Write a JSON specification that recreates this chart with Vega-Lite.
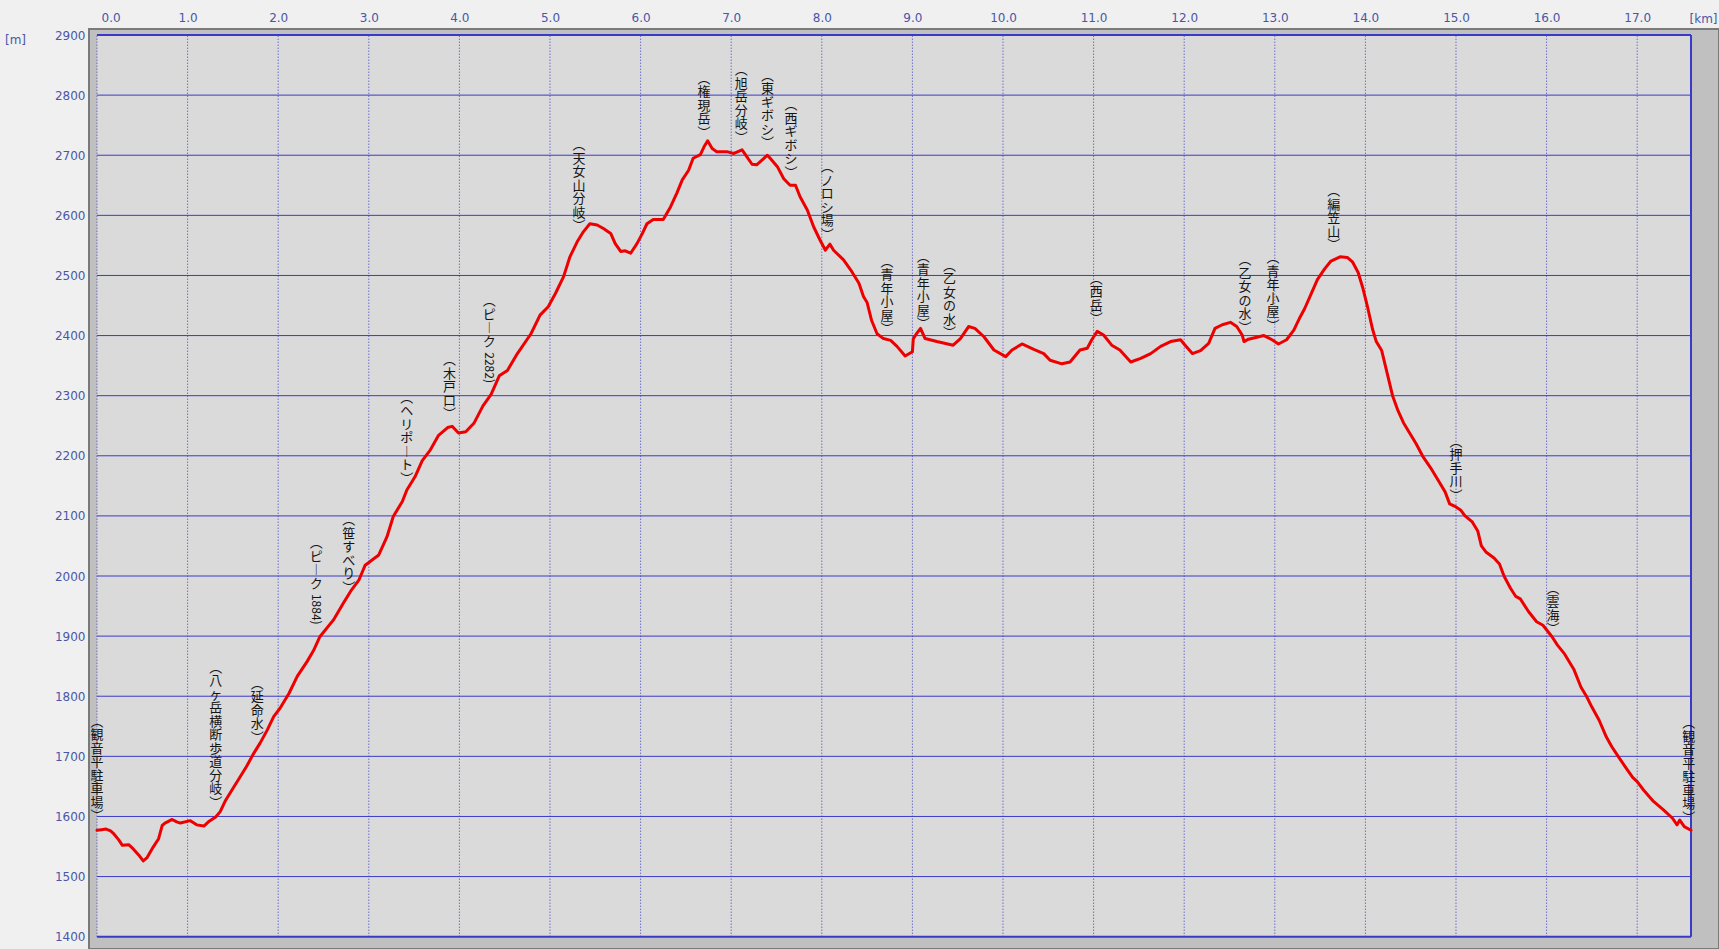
{
  "$schema": "https://vega.github.io/schema/vega-lite/v6.json",
  "width": 1630,
  "height": 920,
  "autosize": {"type": "none"},
  "padding": {"left": 89, "top": 29, "right": 0, "bottom": 0},
  "background": "#f0f0f0",
  "config": {
    "view": {"fill": "#c0c0c0", "stroke": "#7a7a7a", "strokeWidth": 2}
  },
  "datasets": {
    "profile": [
      {"km": 0.00, "elev": 1577}, {"km": 0.05, "elev": 1578}, {"km": 0.10, "elev": 1579}, {"km": 0.15, "elev": 1576},
      {"km": 0.18, "elev": 1572}, {"km": 0.24, "elev": 1561}, {"km": 0.28, "elev": 1552}, {"km": 0.35, "elev": 1553},
      {"km": 0.40, "elev": 1546}, {"km": 0.46, "elev": 1536}, {"km": 0.51, "elev": 1526}, {"km": 0.55, "elev": 1531},
      {"km": 0.62, "elev": 1549}, {"km": 0.68, "elev": 1563}, {"km": 0.72, "elev": 1585}, {"km": 0.75, "elev": 1589},
      {"km": 0.83, "elev": 1595}, {"km": 0.88, "elev": 1591}, {"km": 0.92, "elev": 1589}, {"km": 1.03, "elev": 1593},
      {"km": 1.10, "elev": 1586}, {"km": 1.18, "elev": 1584}, {"km": 1.23, "elev": 1591}, {"km": 1.31, "elev": 1599},
      {"km": 1.36, "elev": 1608}, {"km": 1.42, "elev": 1627}, {"km": 1.51, "elev": 1649}, {"km": 1.56, "elev": 1661},
      {"km": 1.65, "elev": 1683}, {"km": 1.73, "elev": 1705}, {"km": 1.80, "elev": 1722}, {"km": 1.88, "elev": 1744},
      {"km": 1.95, "elev": 1766}, {"km": 2.02, "elev": 1780}, {"km": 2.12, "elev": 1805}, {"km": 2.21, "elev": 1833},
      {"km": 2.32, "elev": 1858}, {"km": 2.39, "elev": 1876}, {"km": 2.46, "elev": 1899}, {"km": 2.61, "elev": 1927},
      {"km": 2.72, "elev": 1955}, {"km": 2.81, "elev": 1977}, {"km": 2.89, "elev": 1993}, {"km": 2.96, "elev": 2018},
      {"km": 3.04, "elev": 2027}, {"km": 3.11, "elev": 2035}, {"km": 3.20, "elev": 2065}, {"km": 3.27, "elev": 2099},
      {"km": 3.37, "elev": 2124}, {"km": 3.42, "elev": 2143}, {"km": 3.51, "elev": 2165}, {"km": 3.59, "elev": 2192},
      {"km": 3.68, "elev": 2210}, {"km": 3.77, "elev": 2234}, {"km": 3.87, "elev": 2247}, {"km": 3.92, "elev": 2249},
      {"km": 3.99, "elev": 2238}, {"km": 4.07, "elev": 2240}, {"km": 4.16, "elev": 2254}, {"km": 4.26, "elev": 2283},
      {"km": 4.35, "elev": 2302}, {"km": 4.44, "elev": 2333}, {"km": 4.53, "elev": 2342}, {"km": 4.64, "elev": 2370},
      {"km": 4.79, "elev": 2403}, {"km": 4.89, "elev": 2434}, {"km": 4.98, "elev": 2448}, {"km": 5.06, "elev": 2470},
      {"km": 5.15, "elev": 2498}, {"km": 5.22, "elev": 2531}, {"km": 5.30, "elev": 2556}, {"km": 5.37, "elev": 2573},
      {"km": 5.44, "elev": 2586}, {"km": 5.52, "elev": 2584}, {"km": 5.59, "elev": 2578}, {"km": 5.67, "elev": 2570},
      {"km": 5.72, "elev": 2553}, {"km": 5.78, "elev": 2540}, {"km": 5.83, "elev": 2541}, {"km": 5.89, "elev": 2537},
      {"km": 5.96, "elev": 2553}, {"km": 6.02, "elev": 2570}, {"km": 6.07, "elev": 2586}, {"km": 6.14, "elev": 2593},
      {"km": 6.25, "elev": 2593}, {"km": 6.33, "elev": 2614}, {"km": 6.40, "elev": 2637}, {"km": 6.46, "elev": 2659},
      {"km": 6.53, "elev": 2675}, {"km": 6.58, "elev": 2695}, {"km": 6.66, "elev": 2701}, {"km": 6.70, "elev": 2714},
      {"km": 6.74, "elev": 2724}, {"km": 6.79, "elev": 2711}, {"km": 6.84, "elev": 2706}, {"km": 6.95, "elev": 2706},
      {"km": 7.03, "elev": 2703}, {"km": 7.12, "elev": 2709}, {"km": 7.17, "elev": 2698}, {"km": 7.23, "elev": 2685},
      {"km": 7.28, "elev": 2684}, {"km": 7.34, "elev": 2692}, {"km": 7.40, "elev": 2700}, {"km": 7.43, "elev": 2695},
      {"km": 7.51, "elev": 2681}, {"km": 7.58, "elev": 2661}, {"km": 7.65, "elev": 2650}, {"km": 7.71, "elev": 2650},
      {"km": 7.76, "elev": 2631}, {"km": 7.84, "elev": 2609}, {"km": 7.91, "elev": 2581}, {"km": 7.98, "elev": 2559},
      {"km": 8.04, "elev": 2542}, {"km": 8.09, "elev": 2552}, {"km": 8.13, "elev": 2542}, {"km": 8.24, "elev": 2526},
      {"km": 8.32, "elev": 2509}, {"km": 8.41, "elev": 2487}, {"km": 8.46, "elev": 2465}, {"km": 8.50, "elev": 2455},
      {"km": 8.55, "elev": 2425}, {"km": 8.61, "elev": 2403}, {"km": 8.68, "elev": 2395}, {"km": 8.76, "elev": 2392},
      {"km": 8.83, "elev": 2382}, {"km": 8.92, "elev": 2366}, {"km": 9.00, "elev": 2373}, {"km": 9.01, "elev": 2395},
      {"km": 9.05, "elev": 2404}, {"km": 9.09, "elev": 2412}, {"km": 9.14, "elev": 2395}, {"km": 9.27, "elev": 2390},
      {"km": 9.45, "elev": 2384}, {"km": 9.53, "elev": 2395}, {"km": 9.62, "elev": 2415}, {"km": 9.69, "elev": 2412},
      {"km": 9.79, "elev": 2398}, {"km": 9.90, "elev": 2376}, {"km": 10.03, "elev": 2365}, {"km": 10.10, "elev": 2376},
      {"km": 10.21, "elev": 2386}, {"km": 10.34, "elev": 2377}, {"km": 10.45, "elev": 2370}, {"km": 10.52, "elev": 2359},
      {"km": 10.65, "elev": 2353}, {"km": 10.74, "elev": 2356}, {"km": 10.85, "elev": 2376}, {"km": 10.93, "elev": 2379},
      {"km": 10.98, "elev": 2393}, {"km": 11.04, "elev": 2407}, {"km": 11.11, "elev": 2401}, {"km": 11.20, "elev": 2384},
      {"km": 11.29, "elev": 2376}, {"km": 11.41, "elev": 2356}, {"km": 11.52, "elev": 2362}, {"km": 11.63, "elev": 2370},
      {"km": 11.74, "elev": 2382}, {"km": 11.85, "elev": 2390}, {"km": 11.96, "elev": 2393}, {"km": 12.01, "elev": 2384},
      {"km": 12.09, "elev": 2370}, {"km": 12.18, "elev": 2375}, {"km": 12.27, "elev": 2387}, {"km": 12.34, "elev": 2412},
      {"km": 12.42, "elev": 2418}, {"km": 12.51, "elev": 2422}, {"km": 12.58, "elev": 2415}, {"km": 12.64, "elev": 2401},
      {"km": 12.66, "elev": 2390}, {"km": 12.71, "elev": 2394}, {"km": 12.88, "elev": 2400}, {"km": 12.97, "elev": 2393},
      {"km": 13.04, "elev": 2386}, {"km": 13.13, "elev": 2393}, {"km": 13.21, "elev": 2409}, {"km": 13.28, "elev": 2431},
      {"km": 13.33, "elev": 2445}, {"km": 13.40, "elev": 2469}, {"km": 13.47, "elev": 2493}, {"km": 13.55, "elev": 2511},
      {"km": 13.62, "elev": 2524}, {"km": 13.72, "elev": 2531}, {"km": 13.80, "elev": 2530}, {"km": 13.86, "elev": 2522},
      {"km": 13.92, "elev": 2505}, {"km": 13.97, "elev": 2480}, {"km": 14.02, "elev": 2450}, {"km": 14.08, "elev": 2410},
      {"km": 14.12, "elev": 2390}, {"km": 14.18, "elev": 2375}, {"km": 14.22, "elev": 2350}, {"km": 14.30, "elev": 2300},
      {"km": 14.36, "elev": 2275}, {"km": 14.42, "elev": 2255}, {"km": 14.50, "elev": 2235}, {"km": 14.56, "elev": 2220},
      {"km": 14.63, "elev": 2200}, {"km": 14.72, "elev": 2180}, {"km": 14.80, "elev": 2160}, {"km": 14.88, "elev": 2140},
      {"km": 14.93, "elev": 2120}, {"km": 15.00, "elev": 2115}, {"km": 15.05, "elev": 2110}, {"km": 15.10, "elev": 2100},
      {"km": 15.18, "elev": 2090}, {"km": 15.24, "elev": 2075}, {"km": 15.28, "elev": 2050}, {"km": 15.33, "elev": 2040},
      {"km": 15.42, "elev": 2030}, {"km": 15.48, "elev": 2020}, {"km": 15.53, "elev": 2000}, {"km": 15.60, "elev": 1980},
      {"km": 15.66, "elev": 1966}, {"km": 15.71, "elev": 1962}, {"km": 15.80, "elev": 1941}, {"km": 15.89, "elev": 1924},
      {"km": 15.96, "elev": 1918}, {"km": 16.06, "elev": 1899}, {"km": 16.12, "elev": 1885}, {"km": 16.20, "elev": 1870},
      {"km": 16.30, "elev": 1845}, {"km": 16.38, "elev": 1815}, {"km": 16.44, "elev": 1800}, {"km": 16.50, "elev": 1782},
      {"km": 16.58, "elev": 1760}, {"km": 16.66, "elev": 1732}, {"km": 16.72, "elev": 1716}, {"km": 16.79, "elev": 1700},
      {"km": 16.88, "elev": 1680}, {"km": 16.95, "elev": 1665}, {"km": 17.00, "elev": 1658}, {"km": 17.07, "elev": 1644},
      {"km": 17.18, "elev": 1625}, {"km": 17.29, "elev": 1611}, {"km": 17.39, "elev": 1597}, {"km": 17.44, "elev": 1586},
      {"km": 17.47, "elev": 1594}, {"km": 17.52, "elev": 1583}, {"km": 17.594, "elev": 1577}
    ],
    "frame": [{"x0": 0, "x1": 17.594, "y0": 1400, "y1": 2900}],
    "hgrid": [
      {"e": 1500}, {"e": 1600}, {"e": 1700}, {"e": 1800}, {"e": 1900}, {"e": 2000}, {"e": 2100},
      {"e": 2200}, {"e": 2300}, {"e": 2400}, {"e": 2500}, {"e": 2600}, {"e": 2700}, {"e": 2800}
    ],
    "vgrid": [
      {"k": 0}, {"k": 1}, {"k": 2}, {"k": 3}, {"k": 4}, {"k": 5}, {"k": 6}, {"k": 7}, {"k": 8},
      {"k": 9}, {"k": 10}, {"k": 11}, {"k": 12}, {"k": 13}, {"k": 14}, {"k": 15}, {"k": 16}, {"k": 17}
    ],
    "labels": [
      {"km": 0.00, "elev": 1581, "t": ["︵", "観", "音", "平", "駐", "車", "場", "︶"]},
      {"km": 1.31, "elev": 1604, "t": ["︵", "八", "ヶ", "岳", "横", "断", "歩", "道", "分", "岐", "︶"]},
      {"km": 1.77, "elev": 1712, "t": ["︵", "延", "命", "水", "︶"]},
      {"km": 2.78, "elev": 1961, "t": ["︵", "笹", "す", "べ", "り", "︶"]},
      {"km": 3.42, "elev": 2143, "t": ["︵", "ヘ", "リ", "ポ", "︱", "ト", "︶"]},
      {"km": 3.89, "elev": 2250, "t": ["︵", "木", "戸", "口", "︶"]},
      {"km": 5.32, "elev": 2563, "t": ["︵", "天", "女", "山", "分", "岐", "︶"]},
      {"km": 6.70, "elev": 2718, "t": ["︵", "権", "現", "岳", "︶"]},
      {"km": 7.11, "elev": 2710, "t": ["︵", "旭", "岳", "分", "岐", "︶"]},
      {"km": 7.40, "elev": 2701, "t": ["︵", "東", "ギ", "ボ", "シ", "︶"]},
      {"km": 7.66, "elev": 2652, "t": ["︵", "西", "ギ", "ボ", "シ", "︶"]},
      {"km": 8.06, "elev": 2549, "t": ["︵", "ノ", "ロ", "シ", "場", "︶"]},
      {"km": 8.72, "elev": 2391, "t": ["︵", "青", "年", "小", "屋", "︶"]},
      {"km": 9.12, "elev": 2400, "t": ["︵", "青", "年", "小", "屋", "︶"]},
      {"km": 9.41, "elev": 2385, "t": ["︵", "乙", "女", "の", "水", "︶"]},
      {"km": 11.03, "elev": 2408, "t": ["︵", "西", "岳", "︶"]},
      {"km": 12.67, "elev": 2394, "t": ["︵", "乙", "女", "の", "水", "︶"]},
      {"km": 12.98, "elev": 2397, "t": ["︵", "青", "年", "小", "屋", "︶"]},
      {"km": 13.65, "elev": 2531, "t": ["︵", "編", "笠", "山", "︶"]},
      {"km": 15.00, "elev": 2114, "t": ["︵", "押", "手", "川", "︶"]},
      {"km": 16.07, "elev": 1892, "t": ["︵", "雲", "海", "︶"]},
      {"km": 17.57, "elev": 1579, "t": ["︵", "観", "音", "平", "駐", "車", "場", "︶"]}
    ],
    "peaks": [
      {"km": 2.42, "elev": 1890, "head": ["︵", "ピ", "︱", "ク"], "num": "1884)"},
      {"km": 4.33, "elev": 2292, "head": ["︵", "ピ", "︱", "ク"], "num": "2282)"}
    ]
  },
  "layer": [
    {
      "data": {"name": "frame"},
      "mark": {"type": "rect", "fill": "#dadada"},
      "encoding": {
        "x": {
          "field": "x0", "type": "quantitative",
          "scale": {"domain": [-0.0883, 17.903], "nice": false, "zero": false},
          "axis": {
            "orient": "top",
            "values": [0, 1, 2, 3, 4, 5, 6, 7, 8, 9, 10, 11, 12, 13, 14, 15, 16, 17],
            "format": ".1f",
            "grid": false, "domain": false, "ticks": false, "tickSize": 0,
            "labelPadding": 5, "labelFont": "DejaVu Sans", "labelFontSize": 12,
            "labelColor": "#4a56a6", "labelFlush": 10, "labelFlushOffset": -4,
            "labelOverlap": false, "labelBound": false,
            "title": "[km]", "titleX": 1614, "titleY": -11, "titleAngle": 0,
            "titleAlign": "center", "titleBaseline": "middle",
            "titleFont": "DejaVu Sans", "titleFontSize": 12, "titleFontWeight": "normal",
            "titleColor": "#4a56a6"
          }
        },
        "x2": {"field": "x1"},
        "y": {
          "field": "y0", "type": "quantitative",
          "scale": {"domain": [1379.5, 2910], "nice": false, "zero": false},
          "axis": {
            "orient": "left",
            "values": [1400, 1500, 1600, 1700, 1800, 1900, 2000, 2100, 2200, 2300, 2400, 2500, 2600, 2700, 2800, 2900],
            "format": "d",
            "grid": false, "domain": false, "ticks": false, "tickSize": 0,
            "labelPadding": 4, "labelFont": "DejaVu Sans", "labelFontSize": 12,
            "labelColor": "#4a56a6", "labelFlush": false,
            "labelOverlap": false, "labelBound": false,
            "title": "[m]", "titleX": -74, "titleY": 10.5, "titleAngle": 0,
            "titleAlign": "center", "titleBaseline": "middle",
            "titleFont": "DejaVu Sans", "titleFontSize": 12, "titleFontWeight": "normal",
            "titleColor": "#4a56a6"
          }
        },
        "y2": {"field": "y1"}
      }
    },
    {
      "data": {"name": "vgrid"},
      "mark": {"type": "rule", "color": "#3a3ac8", "strokeWidth": 1, "strokeDash": [1, 2]},
      "encoding": {
        "x": {"field": "k", "type": "quantitative"},
        "y": {"datum": 1400, "type": "quantitative"},
        "y2": {"datum": 2900}
      }
    },
    {
      "data": {"name": "hgrid"},
      "mark": {"type": "rule", "color": "#3a3ac8", "strokeWidth": 1},
      "encoding": {
        "y": {"field": "e", "type": "quantitative"},
        "x": {"datum": 0, "type": "quantitative"},
        "x2": {"datum": 17.594}
      }
    },
    {
      "data": {"name": "frame"},
      "mark": {"type": "rule", "color": "#3a3ac8", "strokeWidth": 2},
      "encoding": {
        "y": {"field": "y1", "type": "quantitative"},
        "x": {"field": "x0", "type": "quantitative"},
        "x2": {"field": "x1"}
      }
    },
    {
      "data": {"name": "frame"},
      "mark": {"type": "rule", "color": "#3a3ac8", "strokeWidth": 2},
      "encoding": {
        "y": {"field": "y0", "type": "quantitative"},
        "x": {"field": "x0", "type": "quantitative"},
        "x2": {"field": "x1"}
      }
    },
    {
      "data": {"name": "frame"},
      "mark": {"type": "rule", "color": "#3a3ac8", "strokeWidth": 2},
      "encoding": {
        "x": {"field": "x1", "type": "quantitative"},
        "y": {"field": "y0", "type": "quantitative"},
        "y2": {"field": "y1"}
      }
    },
    {
      "data": {"name": "profile"},
      "mark": {"type": "line", "color": "#ee0000", "strokeWidth": 3, "strokeJoin": "round", "strokeCap": "round"},
      "encoding": {
        "x": {"field": "km", "type": "quantitative"},
        "y": {"field": "elev", "type": "quantitative"}
      }
    },
    {
      "data": {"name": "labels"},
      "mark": {"type": "text", "font": "Noto Sans CJK JP", "fontSize": 13, "lineHeight": 13.5, "color": "#141414", "align": "center", "baseline": "alphabetic", "dy": {"expr": "-7.5 - 13.5 * (length(datum.t) - 1)"}},
      "encoding": {
        "x": {"field": "km", "type": "quantitative"},
        "y": {"field": "elev", "type": "quantitative"},
        "text": {"field": "t", "type": "nominal"}
      }
    },
    {
      "data": {"name": "peaks"},
      "mark": {"type": "text", "font": "Noto Sans CJK JP", "fontSize": 13, "lineHeight": 13.5, "color": "#141414", "align": "center", "baseline": "alphabetic", "dy": -95},
      "encoding": {
        "x": {"field": "km", "type": "quantitative"},
        "y": {"field": "elev", "type": "quantitative"},
        "text": {"field": "head", "type": "nominal"}
      }
    },
    {
      "data": {"name": "peaks"},
      "mark": {"type": "text", "font": "Noto Sans CJK JP", "fontSize": 12, "color": "#141414", "align": "right", "baseline": "middle", "angle": 90, "dx": -17.5},
      "encoding": {
        "x": {"field": "km", "type": "quantitative"},
        "y": {"field": "elev", "type": "quantitative"},
        "text": {"field": "num", "type": "nominal"}
      }
    }
  ]
}
